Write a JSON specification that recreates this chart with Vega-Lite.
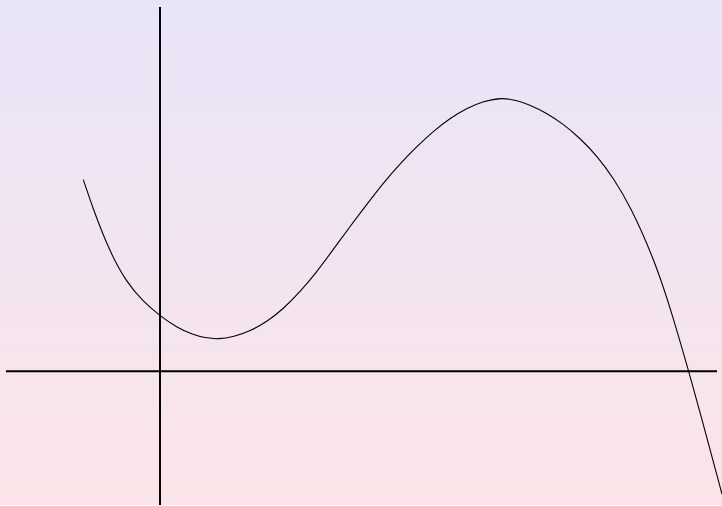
{
  "$schema": "https://vega.github.io/schema/vega-lite/v6.json",
  "width": 722,
  "height": 506,
  "autosize": {"type": "fit", "contains": "padding"},
  "padding": 0,
  "config": {
    "view": {
      "stroke": null,
      "fill": {"gradient": "linear", "x1": 0, "y1": 0, "x2": 0, "y2": 1, "stops": [{"offset": 0, "color": "#e8e4f8"}, {"offset": 1, "color": "#fce4e8"}]}
    }
  },
  "datasets": {
    "curve": [
      {"x": -1.534, "y": 3.84}, {"x": -1.334, "y": 3.24}, {"x": -1.0, "y": 2.38}, {"x": -0.666, "y": 1.78},
      {"x": -0.34, "y": 1.40}, {"x": 0, "y": 1.11}, {"x": 0.334, "y": 0.88}, {"x": 0.66, "y": 0.73},
      {"x": 0.9, "y": 0.67}, {"x": 1.16, "y": 0.64}, {"x": 1.48, "y": 0.69}, {"x": 1.8, "y": 0.806},
      {"x": 2.134, "y": 0.99}, {"x": 2.466, "y": 1.25},
      {"x": 2.8, "y": 1.59}, {"x": 3.134, "y": 1.99}, {"x": 3.466, "y": 2.44}, {"x": 3.8, "y": 2.90},
      {"x": 4.134, "y": 3.34}, {"x": 4.466, "y": 3.774}, {"x": 4.8, "y": 4.16}, {"x": 5.134, "y": 4.50},
      {"x": 5.466, "y": 4.81}, {"x": 5.8, "y": 5.07}, {"x": 6.134, "y": 5.27}, {"x": 6.466, "y": 5.41},
      {"x": 6.84, "y": 5.486}, {"x": 7.12, "y": 5.43}, {"x": 7.4, "y": 5.34}, {"x": 7.73, "y": 5.174},
      {"x": 8.06, "y": 4.96}, {"x": 8.4, "y": 4.67}, {"x": 8.74, "y": 4.32}, {"x": 9.07, "y": 3.87},
      {"x": 9.4, "y": 3.32}, {"x": 9.86, "y": 2.30}, {"x": 10.2, "y": 1.30},
      {"x": 10.58, "y": -0.02}, {"x": 10.8, "y": -0.82}, {"x": 11.24, "y": -2.46}
    ],
    "axes": [
      {"x": -3.08, "x2": 11.14, "y": 0, "y2": 0},
      {"x": 0, "x2": 0, "y": 7.3, "y2": -2.68}
    ]
  },
  "layer": [
    {
      "data": {"name": "axes"},
      "mark": {"type": "rule", "color": "#000000", "strokeWidth": 2},
      "encoding": {
        "x": {"field": "x", "type": "quantitative", "scale": {"domain": [-3.2, 11.24], "nice": false, "zero": false}, "axis": null},
        "x2": {"field": "x2"},
        "y": {"field": "y", "type": "quantitative", "scale": {"domain": [-2.68, 7.44], "nice": false, "zero": false}, "axis": null},
        "y2": {"field": "y2"}
      }
    },
    {
      "data": {"name": "curve"},
      "mark": {"type": "line", "color": "#000000", "strokeWidth": 1.1, "interpolate": "basis", "clip": true},
      "encoding": {
        "x": {"field": "x", "type": "quantitative", "axis": null},
        "y": {"field": "y", "type": "quantitative", "axis": null}
      }
    }
  ]
}
